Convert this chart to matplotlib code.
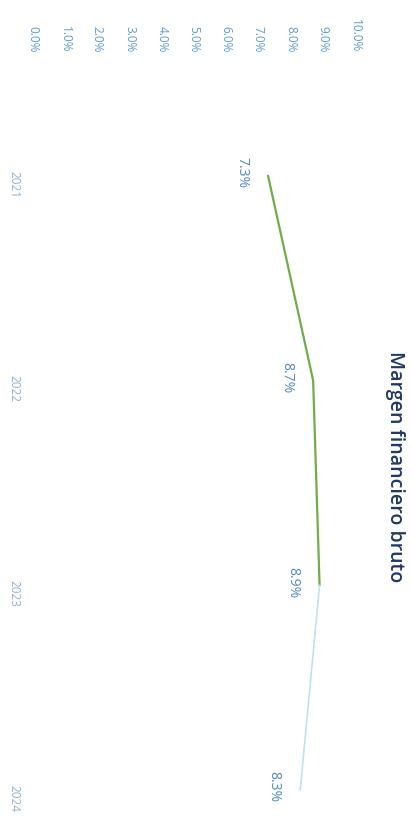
import matplotlib.pyplot as plt

# chart is drawn already turned a quarter turn clockwise (as in the reference)
years = [2021, 2022, 2023, 2024]
margen = [7.3, 8.7, 8.9, 8.3]
real_n = 3  # first three points are actual, last one projected
value_ticks = [0, 1, 2, 3, 4, 5, 6, 7, 8, 9, 10]
value_labels = ["%.1f%%" % v for v in value_ticks]

plt.rcParams['font.family'] = ['Open Sans', 'DejaVu Sans']

fig = plt.figure(figsize=(4.13, 8.25), dpi=100)
ax = fig.add_axes([33 / 413, 5 / 825, (355 - 33) / 413, 765 / 825])

ax.plot(margen[:real_n], years[:real_n], color='#70ad47', lw=1.6, solid_capstyle='round')
ax.plot(margen[real_n - 1:], years[real_n - 1:], color='#b3dcef', lw=1.2, alpha=0.85)

for v, y in zip(margen, years):
    ax.annotate("%.1f%%" % v, (v, y), xytext=(-19, 2), textcoords='offset points',
                rotation=-90, ha='center', va='center', fontsize=10, color='#4f88c6')

ax.set_xlim(0, 10)
ax.set_ylim(2024 + 30 / 203.3, 2021 - 120 / 203.3)

ax.xaxis.tick_top()
ax.set_xticks(value_ticks)
ax.set_xticklabels(value_labels, rotation=-90, fontsize=8.5, color='#5b9bd5')
ax.set_yticks(years)
ax.set_yticklabels([str(y) for y in years], rotation=-90, fontsize=8.5, color='#8fb0d0')
ax.tick_params(axis='x', length=0, pad=2)
ax.tick_params(axis='y', length=0, pad=9)

for s in ax.spines.values():
    s.set_visible(False)

fig.text(395 / 413, 1 - 467 / 825, "Margen financiero bruto", rotation=-90,
         ha='center', va='center', fontsize=14, fontweight='semibold', color='#1f3864')

fig.savefig("out.png", dpi=100)
